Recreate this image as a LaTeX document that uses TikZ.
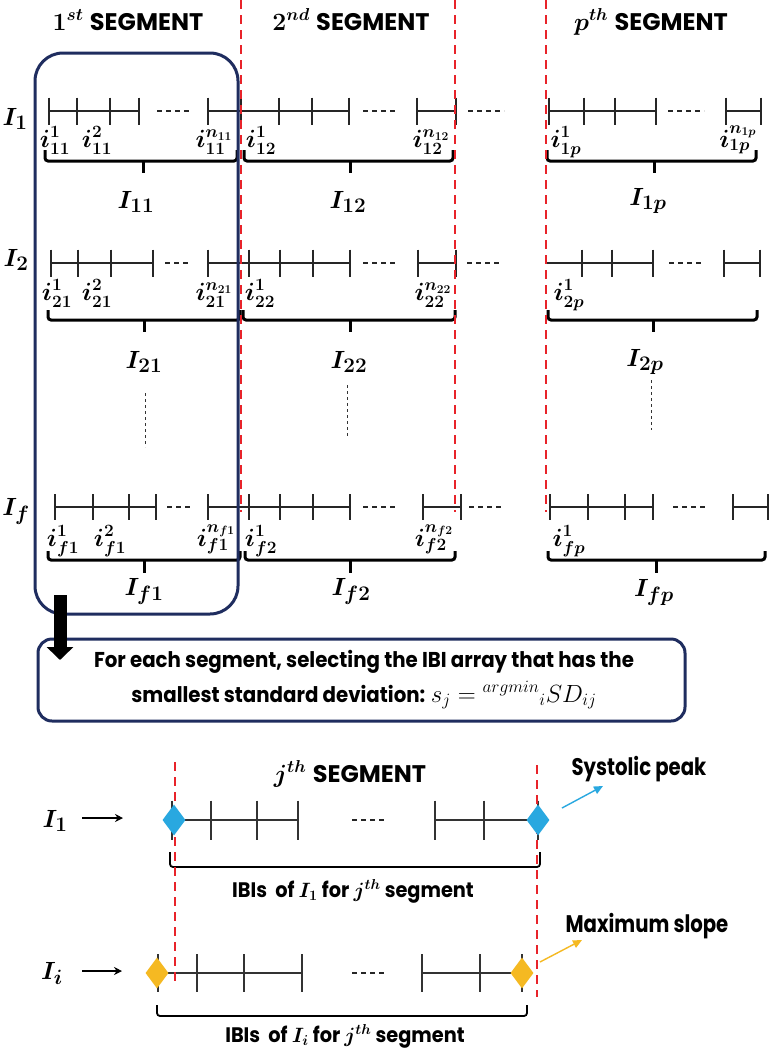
\documentclass[tikz,border=0pt]{standalone}
\usepackage{fontspec}
\setmainfont{Poppins}
\newfontfamily\condfont[FakeStretch=0.92]{Poppins}
\newfontfamily\notefont[FakeStretch=0.82]{Poppins}
\usetikzlibrary{arrows.meta,shapes.geometric}
\definecolor{navy}{RGB}{31,45,95}
\definecolor{segred}{RGB}{232,35,42}
\definecolor{peakblue}{RGB}{41,168,224}
\definecolor{slopegold}{RGB}{245,185,34}
% [style]{y}{x1}{x2}{ticks}{half tick length}
\newcommand\segline[6][axis]{\draw[#1] (#3,#2) -- (#4,#2);
  \foreach \tx in {#5} {\draw[#1] (\tx,#2-#6) -- (\tx,#2+#6);}}
% {x1}{x2}{xmid}{ytop}{yline}{ytip}
\newcommand\segbrace[6]{\draw[brace] (#1,#4) -- (#1,#5) -- (#2,#5) -- (#2,#4);
  \draw[brace,rounded corners=0pt] (#3,#5) -- (#3,#6);}
\begin{document}
\begin{tikzpicture}[x=1pt,y=-1pt,
  axis/.style={draw=black!85, line width=1.2pt},
  bax/.style={draw=black!80, line width=1.7pt},
  gapdash/.style={draw=black!85, line width=1.1pt, dash pattern=on 5pt off 4pt},
  redline/.style={draw=segred, line width=2.3pt, dash pattern=on 9pt off 6pt},
  brace/.style={draw=black, line width=3pt, rounded corners=3pt},
  bbr/.style={draw=black, line width=1.8pt, rounded corners=3pt},
  vdots/.style={draw=black!80, line width=1pt, dash pattern=on 3pt off 3pt},
  hdr/.style={font=\fontsize{24}{28}\selectfont\boldmath, anchor=base, inner sep=0pt},
  ilab/.style={font=\fontsize{25}{28}\selectfont\boldmath, anchor=base, inner sep=0pt},
  Ilab/.style={font=\fontsize{30}{34}\selectfont\boldmath, anchor=base, inner sep=0pt},
  note/.style={font=\notefont\bfseries\fontsize{24}{28}\selectfont, anchor=base, inner sep=0pt},
  boxtxt/.style={font=\condfont\bfseries\fontsize{21.5}{24}\selectfont, anchor=base, inner sep=0pt},
  ibi/.style={font=\condfont\bfseries\boldmath\fontsize{21}{24}\selectfont, anchor=base, inner sep=0pt},
  gem/.style={diamond, minimum width=23pt, minimum height=31pt, inner sep=0pt, draw=none},
  ]
\fill[white] (0,0) rectangle (771,1050);
\useasboundingbox (0,0) rectangle (771,1050);

% ---------- headers ----------
\node[hdr] (h1) at (128,30) {$1^{st}$ \bfseries SEGMENT};
\node[hdr] (h2) at (351,30) {$2^{nd}$ \bfseries SEGMENT};
\node[hdr] (hp) at (651,30) {$p^{th}$ \bfseries SEGMENT};

% ---------- row labels ----------
\node[Ilab] (R1) at (15,125) {$I_1$};
\node[Ilab] (R2) at (16,266) {$I_2$};
\node[Ilab] (Rf) at (16,515) {$I_f$};

% ---------- row I1 ----------
\segline{111}{49}{139}{49,77,110,139}{13.5}
\draw[gapdash] (157,111) -- (192,111);
\segline{111}{208}{349}{208,241,279,312,349}{13.5}
\draw[gapdash] (363,111) -- (398,111);
\segline{111}{417}{456}{417,456}{13.5}
\draw[gapdash] (468,111) -- (504,111);
\segline{111}{549}{656}{549,584,615,656}{13.5}
\draw[gapdash] (668,111) -- (704,111);
\segline{111}{726}{761}{726,761}{13.5}

\node[ilab] (l11a) at (55,147) {$i_{11}^{1}$};
\node[ilab] (l11b) at (97,147) {$i_{11}^{2}$};
\node[ilab] (l11n) at (214,147) {$i_{11}^{n_{11}}$};
\node[ilab] (l12a) at (261,147) {$i_{12}^{1}$};
\node[ilab] (l12n) at (431,147) {$i_{12}^{n_{12}}$};
\node[ilab] (l1pa) at (566,147) {$i_{1p}^{1}$};
\node[ilab] (l1pn) at (738,147) {$i_{1p}^{n_{1p}}$};

\segbrace{45}{237}{143}{150}{161}{173}
\segbrace{244}{453}{350}{150}{161}{173}
\segbrace{547}{756}{654}{150}{161}{173}

\node[Ilab] (I11) at (136,208) {$I_{11}$};
\node[Ilab] (I12) at (348,208) {$I_{12}$};
\node[Ilab] (I1p) at (648,205) {$I_{1p}$};

% ---------- row I2 ----------
\segline{263}{51}{153}{51,78,111,153}{13.5}
\draw[gapdash] (165,263) -- (190,263);
\segline{263}{208}{350}{208,249,280,313,350}{13.5}
\draw[gapdash] (363,263) -- (398,263);
\segline{263}{418}{456}{418,456}{13.5}
\draw[gapdash] (467,263) -- (502,263);
\segline{263}{545}{653}{582,612,653}{13.5}
\draw[gapdash] (669,263) -- (704,263);
\segline{263}{724}{760}{724,760}{13.5}

\node[ilab] (l21a) at (57,300) {$i_{21}^{1}$};
\node[ilab] (l21b) at (97,300) {$i_{21}^{2}$};
\node[ilab] (l21n) at (214,300) {$i_{21}^{n_{21}}$};
\node[ilab] (l22a) at (260,300) {$i_{22}^{1}$};
\node[ilab] (l22n) at (433,300) {$i_{22}^{n_{22}}$};
\node[ilab] (l2pa) at (569,300) {$i_{2p}^{1}$};

\segbrace{48}{240}{144}{310}{320}{332}
\segbrace{243}{455}{350}{310}{320}{332}
\segbrace{548}{757}{653}{310}{320}{332}

\node[Ilab] (I21) at (144,368) {$I_{21}$};
\node[Ilab] (I22) at (349,368) {$I_{22}$};
\node[Ilab] (I2p) at (645,366) {$I_{2p}$};

\draw[vdots] (145,393) -- (145,447);
\draw[vdots] (347,385) -- (347,438);
\draw[vdots] (651,380) -- (651,430);

% ---------- row If ----------
\segline{507}{55}{156}{55,93,129,156}{13}
\draw[gapdash] (167,507) -- (192,507);
\segline{507}{208}{350}{208,249,280,313,350}{13}
\draw[gapdash] (363,507) -- (398,507);
\segline{507}{423}{461}{423,461}{13}
\draw[gapdash] (469,507) -- (504,507);
\segline{507}{550}{653}{550,588,625,653}{13}
\draw[gapdash] (673,507) -- (708,507);
\segline{507}{733}{768}{733,768}{13}

\node[ilab] (lf1a) at (63,546) {$i_{f1}^{1}$};
\node[ilab] (lf1b) at (110,546) {$i_{f1}^{2}$};
\node[ilab] (lf1n) at (216,546) {$i_{f1}^{n_{f1}}$};
\node[ilab] (lf2a) at (261,546) {$i_{f2}^{1}$};
\node[ilab] (lf2n) at (434,546) {$i_{f2}^{n_{f2}}$};
\node[ilab] (lfpa) at (569,546) {$i_{fp}^{1}$};

\segbrace{48}{240}{144}{551}{560}{573}
\segbrace{245}{455}{350}{551}{560}{573}
\segbrace{548}{765}{656}{551}{560}{573}

\node[Ilab] (If1) at (144,595) {$I_{f1}$};
\node[Ilab] (If2) at (351,595) {$I_{f2}$};
\node[Ilab] (Ifp) at (654,596) {$I_{fp}$};

% ---------- first-segment frame ----------
\node[draw=navy, line width=3pt, rounded corners=28pt, minimum width=203pt,
      minimum height=561pt, inner sep=0pt] (seg1box) at (136.5,333.5) {};

% ---------- segment borders ----------
\draw[redline] (241,0) -- (241,512);
\draw[redline] (455,0) -- (455,512);
\draw[redline] (546,0) -- (546,512);

% ---------- selection box ----------
\node[draw=navy, line width=3pt, rounded corners=14pt, minimum width=647pt,
      minimum height=82pt, inner sep=0pt] (selbox) at (361.5,680) {};
\node[boxtxt] (sel1) at (364,667) {For each segment, selecting the IBI array that has the};
\node[boxtxt] (sel2) at (364,702) {smallest standard deviation: {\fontsize{26}{28}\selectfont$s_j = {}^{argmin}{}_{i}SD_{ij}$}};

\coordinate (arrS) at (60,595);
\coordinate (arrE) at (60,660);
\draw[black, line width=13pt, -{Triangle[width=26pt,length=13pt]}] (arrS) -- (arrE);

% ---------- j-th segment detail ----------
\node[hdr] (hj) at (350,782) {$j^{th}$ \bfseries SEGMENT};

\node[Ilab] (bI1) at (55,827) {$I_1$};
\node[Ilab] (bIi) at (52,979) {$I_i$};
\coordinate (a1e) at (123,818);
\coordinate (a2e) at (122,971);
\draw[black, line width=1.3pt, -{Stealth[length=8pt,width=8pt]}] (82,818) -- (a1e);
\draw[black, line width=1.3pt, -{Stealth[length=8pt,width=8pt]}] (82,971) -- (a2e);

\segline[bax]{820}{172}{298}{172,211,257,298}{19.5}
\draw[gapdash] (352,820) -- (386,820);
\segline[bax]{820}{435}{538}{435,484,538}{19.5}

\segline[bax]{973}{158}{302}{158,197,244,302}{19}
\draw[gapdash] (352,973) -- (386,973);
\segline[bax]{973}{422}{522}{422,480,522}{19}

\draw[bbr] (170,852) -- (170,867) -- (540,867) -- (540,852);
\draw[bbr] (157,1005) -- (157,1016) -- (527,1016) -- (527,1005);

\node[ibi] (ibi1) at (353,897) {IBIs\ \ of $I_1$ for $j^{th}$ segment};
\node[ibi] (ibi2) at (345,1042) {IBIs\ \ of $I_i$ for $j^{th}$ segment};

\draw[redline] (175,762) -- (175,983);
\draw[redline] (537,765) -- (537,997);

\node[gem, fill=peakblue] (pk1) at (174,820) {};
\node[gem, fill=peakblue] (pk2) at (538,820) {};
\node[gem, fill=slopegold] (sl1) at (157,973) {};
\node[gem, fill=slopegold] (sl2) at (522,973) {};

\node[note] (sys) at (639,775) {Systolic peak};
\node[note] (mxs) at (647,932) {Maximum slope};
\coordinate (pkS) at (562,808);
\coordinate (pkE) at (603,786);
\coordinate (slS) at (540,962);
\coordinate (slE) at (582,940);
\draw[peakblue, line width=1.4pt, -{Triangle[length=9pt,width=8pt]}] (pkS) -- (pkE);
\draw[slopegold, line width=1.4pt, -{Triangle[length=9pt,width=8pt]}] (slS) -- (slE);
\end{tikzpicture}
\end{document}
